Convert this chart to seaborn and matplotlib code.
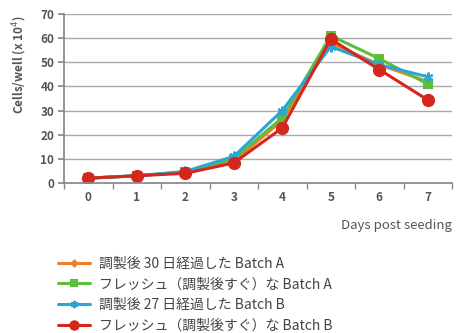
import matplotlib
matplotlib.use("Agg")
import matplotlib.pyplot as plt
import seaborn as sns
import pandas as pd
from matplotlib.ticker import FixedLocator

days = [0, 1, 2, 3, 4, 5, 6, 7]
series_names = [
    "調製後 30 日経過した Batch A",
    "フレッシュ（調製後すぐ）な Batch A",
    "調製後 27 日経過した Batch B",
    "フレッシュ（調製後すぐ）な Batch B",
]
orange_a30 = [2, 3, 4.5, 9, 26, 58, 49, 42]
green_fresh_a = [2, 3, 4.5, 10, 27, 61, 51.5, 41]
blue_b27 = [2, 3, 4.8, 11, 30, 56.5, 49, 44]
red_fresh_b = [2, 3, 4, 8.3, 22.8, 59.6, 47, 34.4]
colors = ["#f07f2a", "#5cbf3c", "#2aa6d6", "#d4281e"]
markers = ["D", "s", (6, 2, 0), "o"]

rows = []
for name, vals in zip(series_names, [orange_a30, green_fresh_a, blue_b27, red_fresh_b]):
    for d, v in zip(days, vals):
        rows.append({"day": d, "value": v, "series": name})
df = pd.DataFrame(rows)

sns.set_theme(style="white")
plt.rcParams["font.family"] = ["Noto Sans CJK JP", "DejaVu Sans"]

fig = plt.figure(figsize=(4.57, 3.33), dpi=100)
ax = fig.add_axes([64 / 457, 1 - 183 / 333, (452 - 64) / 457, (183 - 14) / 333])

sizes = {series_names[0]: 4, series_names[1]: 6, series_names[2]: 7, series_names[3]: 8}
for name, c, m in zip(series_names, colors, markers):
    sub = df[df["series"] == name]
    sns.lineplot(data=sub, x="day", y="value", ax=ax, color=c, marker=m,
                 markersize=sizes[name], markeredgecolor=c, markeredgewidth=1.5,
                 linewidth=2.2, label=name, legend=False)

tc = "#555555"
ax.set_xlim(-0.5, 7.5)
ax.set_ylim(0, 70)
ax.set_yticks(range(0, 71, 10))
ax.set_xticks(days)
ax.xaxis.set_minor_locator(FixedLocator([i + 0.5 for i in range(-1, 8)]))
ax.tick_params(axis="x", which="minor", length=4, color="#888888", direction="out", bottom=True)
ax.tick_params(axis="x", which="major", length=0, labelsize=8.5, colors=tc, pad=6)
ax.tick_params(axis="y", which="major", length=4, color="#888888", direction="out", left=True,
               labelsize=8.5, labelcolor=tc, pad=3)
for lab in ax.get_xticklabels() + ax.get_yticklabels():
    lab.set_fontweight("bold")
ax.yaxis.grid(True, color="#aaaaaa", linewidth=1)
ax.set_axisbelow(True)
for s in ["top", "right"]:
    ax.spines[s].set_visible(False)
ax.spines["left"].set_color("#888888")
ax.spines["bottom"].set_color("#888888")
ax.set_xlabel("")
ax.set_ylabel("Cells/well (x 10$^4$)", fontsize=8.5, color=tc, fontweight="bold")
ax.yaxis.set_label_coords(-0.09, 0.70)
fig.text(452 / 457, 1 - 226 / 333, "Days post seeding", ha="right", va="center",
         fontsize=9.5, color=tc)

handles, labels = ax.get_legend_handles_labels()
fig.legend(handles, labels, loc="upper left", bbox_to_anchor=(52 / 457, 1 - 251 / 333),
           frameon=False, fontsize=10, handlelength=2.3, labelspacing=0.48,
           handletextpad=0.7, labelcolor="#444444", borderaxespad=0, markerscale=0.75)

fig.savefig("out.png", dpi=100)
